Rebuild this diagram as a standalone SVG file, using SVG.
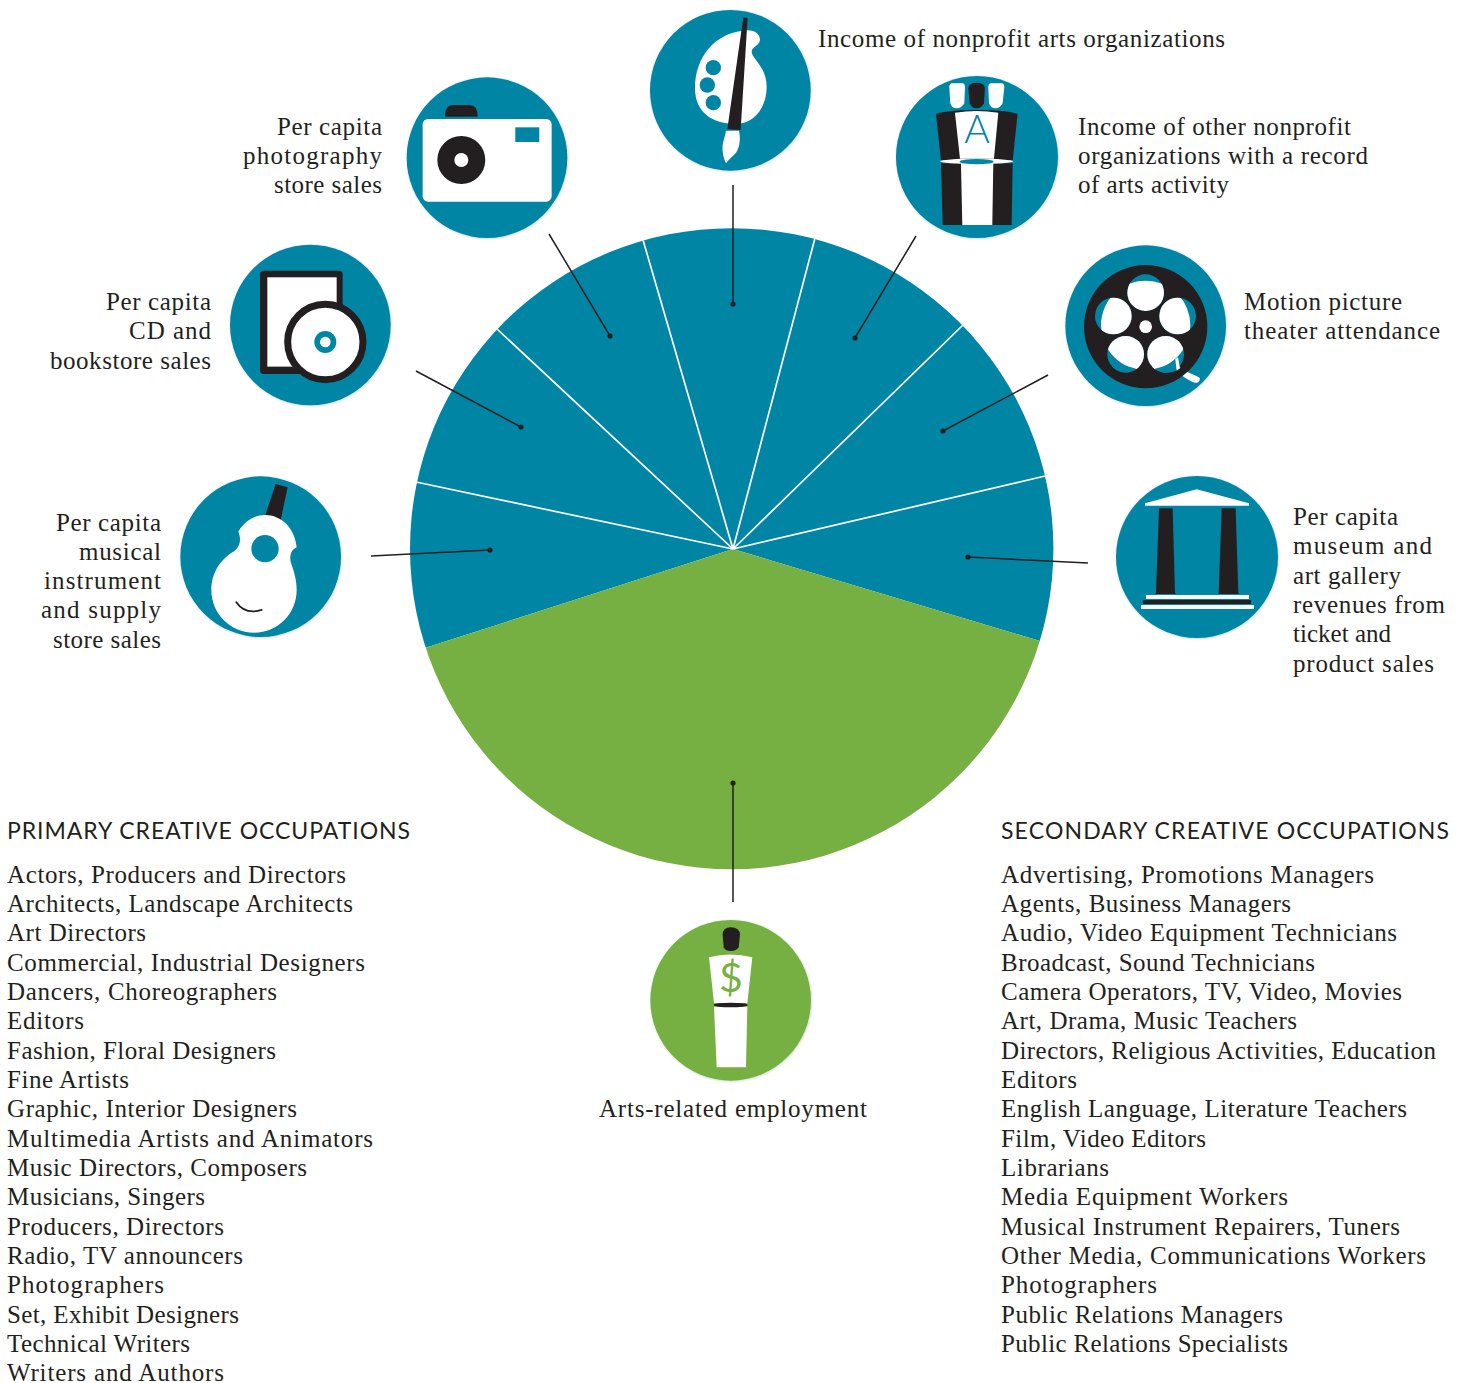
<svg xmlns="http://www.w3.org/2000/svg" width="1466" height="1383" viewBox="0 0 1466 1383">
<style>
text{font-family:"Liberation Serif",serif;font-size:25px;fill:#231f20}
.e{text-anchor:end}.m{text-anchor:middle}
text.h{font-family:Lato,"Open Sans",sans-serif;font-size:23px}
.t{fill:#0086a4}.gr{fill:#76b043}.k{fill:#231f20}.w{fill:#fff}
.bt{fill:#0086a4;filter:url(#sh)}.bg{fill:#76b043;filter:url(#sh)}
.sp{stroke:#fff;stroke-width:1.7;fill:none}
.c{stroke:#231f20;stroke-width:1.5;fill:none}
.d{fill:#231f20}
</style>
<defs>
<filter id="sh" x="-15%" y="-15%" width="130%" height="130%"><feDropShadow dx="1.5" dy="1.5" stdDeviation="3" flood-color="#000" flood-opacity=".22"/></filter>
<clipPath id="reel"><circle cx="257" cy="256" r="134"/></clipPath>
<clipPath id="disc"><ellipse cx="731.7" cy="548.7" rx="321.7" ry="320.5"/></clipPath>
</defs>
<rect width="1466" height="1383" fill="#fff"/>
<g id="pie" clip-path="url(#disc)">
<path d="M733 549L366 667V100H1100V659Z" class="t"/>
<path d="M733 549L366 667V900H1100V659Z" class="gr"/>
<path class="sp" d="M733 549L643 240M733 549L815 238M733 549L497 329M733 549L963 325M733 549L416 482M733 549L1045 476"/>
</g>
<g id="connectors">
<path class="c" d="M733 185V304M916 236L855 338M1048 375L943 431M1088 563L968 557M549 234L610 336M416 371L521 427M371 556L490 550M733 783V902"/>
<circle class="d" cx="733" cy="304" r="2.6"/><circle class="d" cx="855" cy="338" r="2.6"/><circle class="d" cx="943" cy="431" r="2.6"/><circle class="d" cx="968" cy="557" r="2.6"/><circle class="d" cx="610" cy="336" r="2.6"/><circle class="d" cx="521" cy="427" r="2.6"/><circle class="d" cx="490" cy="550" r="2.6"/><circle class="d" cx="733" cy="783" r="2.6"/>
</g>
<g id="node-nonprofit-arts">
<g transform="translate(640 0) scale(.3333)">
<circle class="bt" cx="271" cy="271" r="241"/>
<path class="w" d="M310 92C335 88 358 95 360 118C361 135 335 140 335 155C335 175 380 200 380 260C380 320 345 372 285 372C215 372 165 335 165 265C165 170 225 100 310 92Z"/>
<circle class="t" cx="220" cy="203" r="23"/><circle class="t" cx="202" cy="255" r="23"/><circle class="t" cx="220" cy="308" r="23"/>
<path class="k" d="M310 52L323 54L302 390L262 388Z"/>
<path class="w" d="M258 392L297 392C302 415 300 440 288 458C278 470 265 478 258 490C250 475 246 455 248 435C250 420 256 408 258 392Z"/>
</g>
<text x="818" y="47" textLength="407">Income of nonprofit arts organizations</text>
</g>
<g id="node-other-nonprofit">
<g transform="translate(640 0) scale(.3333)">
<circle class="bt" cx="1011" cy="471" r="243"/>
<path class="w" d="M936 250H967Q975 250 975 262L973 310Q965 325 950 325Q935 325 931 310L928 262Q928 250 936 250ZM1053 250H1085Q1093 250 1093 262L1088 310Q1080 325 1067 325Q1052 325 1047 310L1045 262Q1045 250 1053 250Z"/>
<path class="k" d="M985 265Q985 248 1010 248Q1035 248 1035 265L1032 310Q1025 325 1010 325Q995 325 989 310Z"/>
<path class="k" d="M888 342Q920 330 1010 330Q1100 330 1133 342L1118 482H903ZM903 490H1118L1115 675H908Z"/>
<path class="w" d="M945 338Q1010 328 1075 338L1062 476H960ZM963 490H1060L1057 675H967Z"/>
<ellipse class="w" cx="1010" cy="484" rx="110" ry="8"/>
<ellipse class="t" cx="1010" cy="485" rx="51" ry="8"/>
</g>
<text style="font-family:Lato,sans-serif;font-size:39px;font-weight:300;fill:#0086a4" x="977" y="143" text-anchor="middle">A</text>
<text x="1078" y="135" textLength="273">Income of other nonprofit</text>
<text x="1078" y="164" textLength="290">organizations with a record</text>
<text x="1078" y="193" textLength="151">of arts activity</text>
</g>
<g id="node-photography">
<g transform="translate(220 70) scale(.3333)">
<circle class="bt" cx="801" cy="263" r="241"/>
<path class="k" d="M675 140Q675 105 700 105H750Q773 105 773 140Z"/>
<rect class="w" x="608" y="147" width="387" height="248" rx="16"/>
<rect class="t" x="886" y="172" width="72" height="44"/>
<circle class="k" cx="724" cy="270" r="72"/><circle class="w" cx="724" cy="270" r="21"/>
</g>
<text class="e" x="382" y="135" textLength="105">Per capita</text>
<text class="e" x="382" y="164" textLength="139">photography</text>
<text class="e" x="382" y="193" textLength="108">store sales</text>
</g>
<g id="node-cd-book">
<g transform="translate(220 70) scale(.3333)">
<circle class="bt" cx="271" cy="765" r="241"/>
<rect class="k" x="120" y="602" width="248" height="310" rx="11"/>
<rect class="w" x="142" y="622" width="208" height="268"/>
<circle cx="316" cy="816" r="113" fill="#fff" stroke="#231f20" stroke-width="21"/>
<circle class="t" cx="316" cy="816" r="33"/><circle class="w" cx="316" cy="816" r="16"/>
</g>
<text class="e" x="211" y="310" textLength="105">Per capita</text>
<text class="e" x="211" y="339" textLength="82">CD and</text>
<text class="e" x="211" y="369" textLength="161">bookstore sales</text>
</g>
<g id="node-motion-picture">
<g transform="translate(1060 240) scale(.3333)">
<circle class="bt" cx="257" cy="257" r="241"/>
<circle class="k" cx="257" cy="260" r="185"/>
<circle class="t" cx="257" cy="158" r="55"/><circle class="t" cx="160" cy="228" r="55"/><circle class="t" cx="353" cy="228" r="55"/><circle class="t" cx="197" cy="343" r="55"/><circle class="t" cx="317" cy="343" r="55"/>
<g clip-path="url(#reel)"><circle class="w" cx="257" cy="158" r="55"/><circle class="w" cx="160" cy="228" r="55"/><circle class="w" cx="353" cy="228" r="55"/><circle class="w" cx="197" cy="343" r="55"/><circle class="w" cx="317" cy="343" r="55"/></g>
<path class="t" d="M285 387Q320 385 346 358L362 383Q342 398 317 398Q300 398 285 387Z"/>
<path class="w" d="M346 358L354 352L360 385L350 392Z"/>
<circle class="w" cx="257" cy="260" r="19"/>
<path class="w" d="M368 408L382 396C395 402 412 408 419 414C421 424 414 430 404 428C392 424 378 416 368 408Z"/>
</g>
<text x="1244" y="310" textLength="158">Motion picture</text>
<text x="1244" y="339" textLength="196">theater attendance</text>
</g>
<g id="node-museum">
<g transform="translate(1060 240) scale(.3333)">
<circle class="bt" cx="411" cy="951" r="243"/>
<path class="w" d="M255 790L410 748L567 790V797H255Z"/>
<path class="k" d="M297 805H338L345 1058L348 1062H285L288 1058ZM485 805H527L535 1058L538 1062H474L476 1058Z"/>
<rect class="w" x="258" y="1065" width="309" height="12"/>
<rect class="k" x="249" y="1080" width="324" height="12"/>
<rect class="w" x="243" y="1095" width="339" height="12"/>
</g>
<text x="1293" y="525" textLength="105">Per capita</text>
<text x="1293" y="554" textLength="139">museum and</text>
<text x="1293" y="584" textLength="108">art gallery</text>
<text x="1293" y="613" textLength="152">revenues from</text>
<text x="1293" y="642" textLength="98">ticket and</text>
<text x="1293" y="672" textLength="141">product sales</text>
</g>
<g id="node-musical">
<g transform="translate(170 470) scale(.3333)">
<circle class="bt" cx="272" cy="260" r="241"/>
<path class="k" d="M317 42L353 52L332 150L285 138Z"/>
<path class="w" d="M205 185C225 150 255 135 285 135C335 135 375 175 380 232C365 238 358 255 362 275C370 300 380 325 380 360C380 430 325 488 252 488C180 488 124 430 124 360C124 305 155 265 190 245C210 232 215 210 205 185Z"/>
<circle class="t" cx="285" cy="236" r="41"/>
<path d="M199 397Q225 435 275 420" stroke="#231f20" stroke-width="5.5" fill="none" stroke-linecap="round"/>
</g>
<text class="e" x="161" y="531" textLength="105">Per capita</text>
<text class="e" x="161" y="560" textLength="82">musical</text>
<text class="e" x="161" y="589" textLength="117">instrument</text>
<text class="e" x="161" y="618" textLength="120">and supply</text>
<text class="e" x="161" y="648" textLength="108">store sales</text>
</g>
<g id="node-employment">
<g transform="translate(640 910) scale(.3333)">
<circle class="bg" cx="272" cy="271" r="241"/>
<path class="k" d="M248 75Q248 52 272 52Q300 52 300 75L296 112Q290 123 272 123Q255 123 251 112Z"/>
<path class="w" d="M207 142Q272 125 337 142L322 280H222ZM222 290H322L318 472H230Z"/>
<ellipse class="k" cx="272" cy="285" rx="51" ry="7"/>
</g>
<text style="font-family:Lato,sans-serif;font-size:41px;fill:#76b043" x="731" y="992" text-anchor="middle">$</text>
<text class="m" x="733" y="1117" textLength="268">Arts-related employment</text>
</g>
<g id="list-primary">
<text class="h" x="7" y="839" textLength="403">PRIMARY CREATIVE OCCUPATIONS</text>
<text x="7" y="883" textLength="339">Actors, Producers and Directors</text>
<text x="7" y="912" textLength="346">Architects, Landscape Architects</text>
<text x="7" y="941" textLength="139">Art Directors</text>
<text x="7" y="971" textLength="358">Commercial, Industrial Designers</text>
<text x="7" y="1000" textLength="270">Dancers, Choreographers</text>
<text x="7" y="1029" textLength="77">Editors</text>
<text x="7" y="1059" textLength="269">Fashion, Floral Designers</text>
<text x="7" y="1088" textLength="122">Fine Artists</text>
<text x="7" y="1117" textLength="290">Graphic, Interior Designers</text>
<text x="7" y="1147" textLength="366">Multimedia Artists and Animators</text>
<text x="7" y="1176" textLength="300">Music Directors, Composers</text>
<text x="7" y="1205" textLength="198">Musicians, Singers</text>
<text x="7" y="1235" textLength="217">Producers, Directors</text>
<text x="7" y="1264" textLength="236">Radio, TV announcers</text>
<text x="7" y="1293" textLength="157">Photographers</text>
<text x="7" y="1323" textLength="232">Set, Exhibit Designers</text>
<text x="7" y="1352" textLength="183">Technical Writers</text>
<text x="7" y="1381" textLength="217">Writers and Authors</text>
</g>
<g id="list-secondary">
<text class="h" x="1001" y="839" textLength="448">SECONDARY CREATIVE OCCUPATIONS</text>
<text x="1001" y="883" textLength="373">Advertising, Promotions Managers</text>
<text x="1001" y="912" textLength="290">Agents, Business Managers</text>
<text x="1001" y="941" textLength="396">Audio, Video Equipment Technicians</text>
<text x="1001" y="971" textLength="314">Broadcast, Sound Technicians</text>
<text x="1001" y="1000" textLength="401">Camera Operators, TV, Video, Movies</text>
<text x="1001" y="1029" textLength="296">Art, Drama, Music Teachers</text>
<text x="1001" y="1059" textLength="435">Directors, Religious Activities, Education</text>
<text x="1001" y="1088" textLength="76">Editors</text>
<text x="1001" y="1117" textLength="406">English Language, Literature Teachers</text>
<text x="1001" y="1147" textLength="205">Film, Video Editors</text>
<text x="1001" y="1176" textLength="108">Librarians</text>
<text x="1001" y="1205" textLength="287">Media Equipment Workers</text>
<text x="1001" y="1235" textLength="399">Musical Instrument Repairers, Tuners</text>
<text x="1001" y="1264" textLength="425">Other Media, Communications Workers</text>
<text x="1001" y="1293" textLength="156">Photographers</text>
<text x="1001" y="1323" textLength="282">Public Relations Managers</text>
<text x="1001" y="1352" textLength="287">Public Relations Specialists</text>
</g>
</svg>
